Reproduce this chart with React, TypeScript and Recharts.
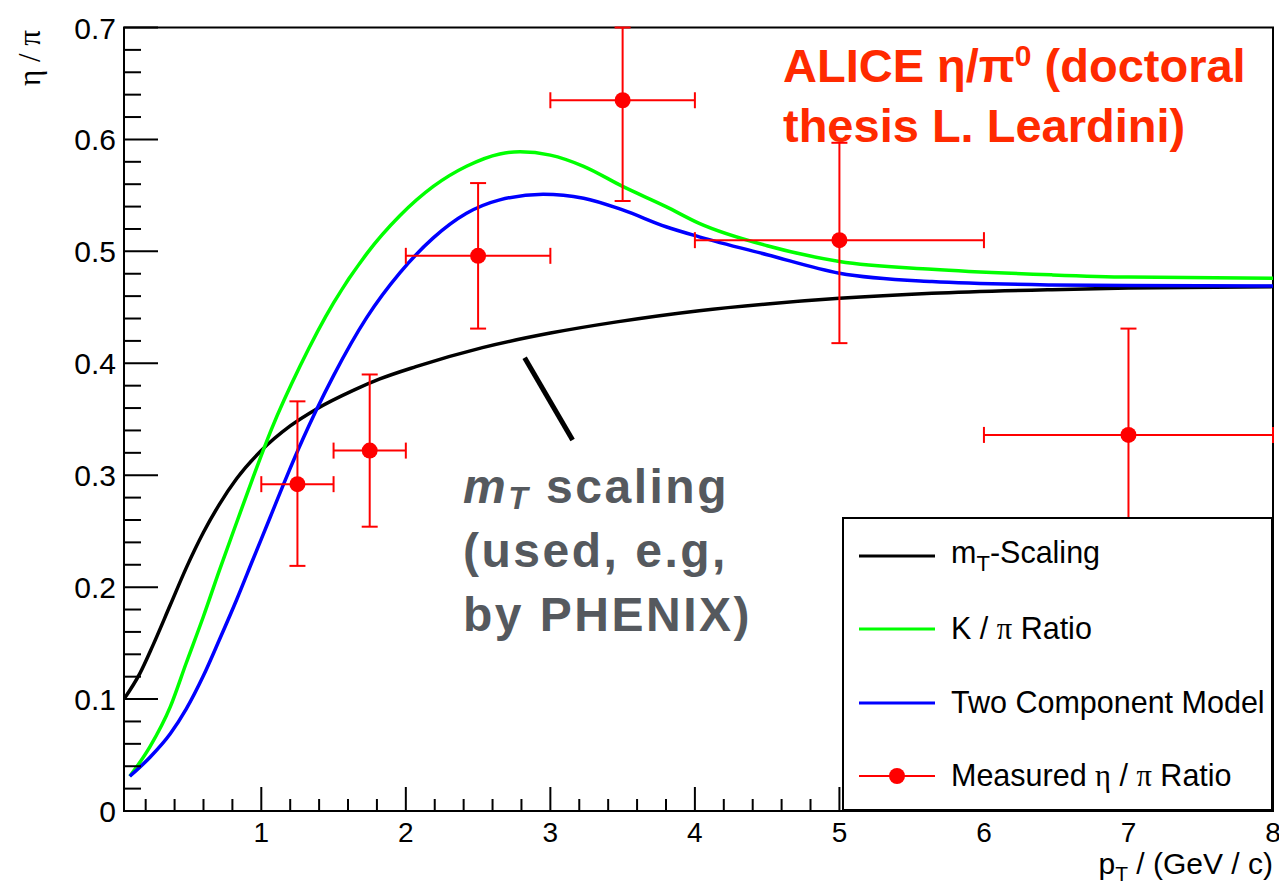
import {
  ComposedChart,
  Line,
  Scatter,
  ErrorBar,
  XAxis,
  YAxis,
  ReferenceArea,
  ReferenceLine,
  Legend,
} from "recharts";

// m_T scaling curve
const MT_PT = [0.05, 0.16, 0.25, 0.37, 0.48, 0.6, 0.71, 0.83, 1.0, 1.2, 1.38, 1.64, 1.82, 2.07, 2.53, 3.0, 3.46, 4.03, 4.5, 5.0, 5.64, 6.47, 7.0, 8.0];
const MT_RATIO = [0.1, 0.123, 0.148, 0.184, 0.217, 0.249, 0.274, 0.297, 0.322, 0.344, 0.359, 0.376, 0.386, 0.397, 0.414, 0.427, 0.437, 0.447, 0.453, 0.458, 0.4625, 0.4658, 0.4672, 0.4685];

// K / pi ratio curve
const K_PT = [0.09, 0.23, 0.37, 0.48, 0.6, 0.71, 0.83, 0.94, 1.07, 1.27, 1.5, 1.73, 1.96, 2.19, 2.42, 2.65, 2.79, 3.0, 3.23, 3.5, 3.8, 4.03, 4.5, 5.0, 5.64, 6.47, 7.0, 8.0];
const K_RATIO = [0.031, 0.0575, 0.093, 0.132, 0.174, 0.215, 0.258, 0.297, 0.341, 0.398, 0.454, 0.498, 0.532, 0.558, 0.576, 0.587, 0.589, 0.586, 0.576, 0.558, 0.54, 0.525, 0.505, 0.491, 0.484, 0.479, 0.477, 0.476];

// two component model curve
const TC_PT = [0.09, 0.23, 0.37, 0.48, 0.6, 0.71, 0.83, 0.94, 1.06, 1.17, 1.29, 1.38, 1.5, 1.73, 1.96, 2.19, 2.42, 2.65, 2.95, 3.23, 3.5, 3.8, 4.03, 4.5, 5.0, 5.64, 6.47, 7.0, 8.0];
const TC_RATIO = [0.031, 0.048, 0.069, 0.091, 0.121, 0.153, 0.189, 0.224, 0.262, 0.297, 0.333, 0.358, 0.389, 0.441, 0.481, 0.512, 0.534, 0.546, 0.551, 0.5475, 0.537, 0.522, 0.513, 0.497, 0.4805, 0.473, 0.47, 0.4695, 0.469];

// measured eta / pi points
const MEAS_PT = [1.25, 1.75, 2.5, 3.5, 5.0, 7.0];
const MEAS_PT_ERR = [0.25, 0.25, 0.5, 0.5, 1.0, 1.0];
const MEAS_RATIO = [0.292, 0.322, 0.496, 0.635, 0.51, 0.336];
const MEAS_ERR_LO = [0.073, 0.068, 0.065, 0.09, 0.092, 0.095];
const MEAS_ERR_HI = [0.074, 0.068, 0.065, 0.065, 0.087, 0.095];

const X_LABELS = [1, 2, 3, 4, 5, 6, 7, 8];
const Y_LABELS = [0, 0.1, 0.2, 0.3, 0.4, 0.5, 0.6, 0.7];

const LEGEND_ITEMS = [
  { key: "mt", color: "#000000", marker: false },
  { key: "k", color: "#00ff00", marker: false },
  { key: "tc", color: "#0000ff", marker: false },
  { key: "meas", color: "#ff0000", marker: true },
];

const toPoints = (xs: number[], ys: number[]) => xs.map((x, i) => ({ x, y: ys[i] }));

const mtData = toPoints(MT_PT, MT_RATIO);
const kData = toPoints(K_PT, K_RATIO);
const tcData = toPoints(TC_PT, TC_RATIO);
const measData = MEAS_PT.map((x, i) => ({
  x,
  y: MEAS_RATIO[i],
  ex: MEAS_PT_ERR[i],
  ey: [MEAS_ERR_LO[i], MEAS_ERR_HI[i]],
}));

// minor ticks: 0.2 on x, 0.02 on y
const xTicks: number[] = [];
for (let i = 1; i <= 40; i++) xTicks.push(+(i * 0.2).toFixed(2));
const yTicks: number[] = [];
for (let i = 0; i <= 35; i++) yTicks.push(+(i * 0.02).toFixed(2));

const SANS = "'Liberation Sans', Arial, Helvetica, sans-serif";
const SERIF = "'Liberation Serif', 'Times New Roman', serif";

const XTick = (props: any) => {
  const { x, y, payload } = props;
  const v = payload.value;
  const major = X_LABELS.some((l) => Math.abs(l - v) < 1e-6);
  return (
    <g>
      <line x1={x} x2={x} y1={y} y2={y - (major ? 24 : 12)} stroke="#000" strokeWidth={2} />
      {major && (
        <text x={x} y={y + 31} textAnchor="middle" fontSize={28} fontFamily={SANS} fill="#000">
          {v}
        </text>
      )}
    </g>
  );
};

const YTick = (props: any) => {
  const { x, y, payload } = props;
  const v = payload.value;
  const label = Y_LABELS.find((l) => Math.abs(l - v) < 1e-6);
  const major = label !== undefined;
  return (
    <g>
      <line x1={x} x2={x + (major ? 34 : 17)} y1={y} y2={y} stroke="#000" strokeWidth={2} />
      {major && (
        <text x={x - 8} y={y + 11} textAnchor="end" fontSize={30} fontFamily={SANS} fill="#000">
          {label === 0 ? "0" : label!.toFixed(1)}
        </text>
      )}
    </g>
  );
};

const Dot = (props: any) => {
  const { cx, cy } = props;
  return <circle cx={cx} cy={cy} r={8} fill="#ff0000" />;
};

const legendLabel = (key: string) => {
  if (key === "mt")
    return (
      <span>
        m<sub style={{ fontSize: 22, verticalAlign: -8 }}>T</sub>-Scaling
      </span>
    );
  if (key === "k")
    return (
      <span>
        K / <span style={{ fontFamily: SERIF }}>π</span> Ratio
      </span>
    );
  if (key === "tc") return <span>Two Component Model</span>;
  return (
    <span>
      Measured <span style={{ fontFamily: SERIF }}>η</span> / <span style={{ fontFamily: SERIF }}>π</span> Ratio
    </span>
  );
};

const LegendBox = () => (
  <div
    style={{
      width: 431,
      height: 294,
      boxSizing: "border-box",
      border: "2px solid #000",
      background: "#fff",
      fontFamily: SANS,
      fontSize: 30.5,
      color: "#000",
    }}
  >
    {LEGEND_ITEMS.map((it) => (
      <div key={it.key} style={{ height: 73.5, display: "flex", alignItems: "center" }}>
        <svg width={107} height={30} style={{ flex: "none" }}>
          <line x1={15} x2={91} y1={15} y2={15} stroke={it.color} strokeWidth={it.marker ? 2 : 3} />
          {it.marker && <circle cx={53} cy={15} r={8} fill={it.color} />}
        </svg>
        {legendLabel(it.key)}
      </div>
    ))}
  </div>
);

export default function App() {
  return (
    <div style={{ position: "absolute", left: 0, top: 0, width: 1279, height: 884, background: "#fff" }}>
      <ComposedChart width={1279} height={884} margin={{ top: 27.5, right: 6, bottom: 0, left: 0 }}>
        <XAxis
          type="number"
          dataKey="x"
          domain={[0.05, 8]}
          allowDataOverflow
          ticks={xTicks}
          interval={0}
          tickSize={0}
          tickMargin={0}
          axisLine={false}
          tickLine={false}
          tick={<XTick />}
          height={73}
        />
        <YAxis
          type="number"
          dataKey="y"
          domain={[0, 0.7]}
          allowDataOverflow
          ticks={yTicks}
          interval={0}
          tickSize={0}
          tickMargin={0}
          axisLine={false}
          tickLine={false}
          tick={<YTick />}
          width={124}
        />
        <ReferenceArea x1={0.05} x2={8} y1={0} y2={0.7} fill="none" stroke="#000" strokeWidth={2} />
        <Line data={mtData} dataKey="y" type="monotone" stroke="#000000" strokeWidth={3.5} dot={false} isAnimationActive={false} />
        <Line data={kData} dataKey="y" type="monotone" stroke="#00ff00" strokeWidth={3.5} dot={false} isAnimationActive={false} />
        <Line data={tcData} dataKey="y" type="monotone" stroke="#0000ff" strokeWidth={3.5} dot={false} isAnimationActive={false} />
        <Scatter data={measData} dataKey="y" shape={<Dot />} isAnimationActive={false}>
          <ErrorBar dataKey="ex" direction="x" width={8} stroke="#ff0000" strokeWidth={2} isAnimationActive={false} />
          <ErrorBar dataKey="ey" direction="y" width={8} stroke="#ff0000" strokeWidth={2} isAnimationActive={false} />
        </Scatter>
        <ReferenceLine
          segment={[
            { x: 2.822, y: 0.405 },
            { x: 3.154, y: 0.3315 },
          ]}
          stroke="#000"
          strokeWidth={5}
        />
        <Legend
          layout="vertical"
          align="center"
          verticalAlign="middle"
          wrapperStyle={{ left: 842, top: 517, width: 431, height: 294 }}
          content={() => <LegendBox />}
        />
      </ComposedChart>
      <svg width={1279} height={884} style={{ position: "absolute", left: 0, top: 0, pointerEvents: "none" }}>
        <text transform="translate(40, 58) rotate(-90)" textAnchor="middle" fontSize={31} fontFamily={SERIF} fill="#000">
          η / π
        </text>
        <text x={1273} y={874} textAnchor="end" fontSize={30} fontFamily={SANS} fill="#000">
          p<tspan fontSize={21} dy={7}>T</tspan>
          <tspan dy={-7}> / (GeV / c)</tspan>
        </text>
        <text fontSize={47} fontWeight="bold" fontFamily={SANS} fill="#ff2a00">
          <tspan x={783} y={82}>
            ALICE η/π<tspan fontSize={30} dy={-16}>0</tspan>
            <tspan dy={16}> (doctoral</tspan>
          </tspan>
          <tspan x={783} y={142}>thesis L. Leardini)</tspan>
        </text>
        <text fontSize={48} fontWeight="bold" fontFamily={SANS} fill="#55595e" letterSpacing={2.5}>
          <tspan x={463} y={503}>
            <tspan fontStyle="italic">m</tspan>
            <tspan fontStyle="italic" fontSize={32} dy={6}>T</tspan>
            <tspan dy={-6}> scaling</tspan>
          </tspan>
          <tspan x={463} y={567}>(used, e.g,</tspan>
          <tspan x={463} y={631}>by PHENIX)</tspan>
        </text>
      </svg>
    </div>
  );
}
